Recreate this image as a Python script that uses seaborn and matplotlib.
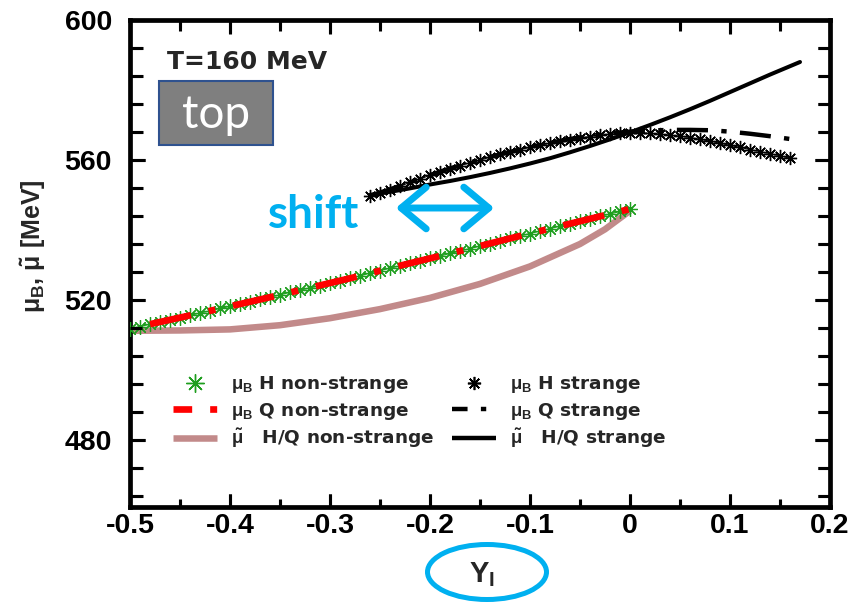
import numpy as np
import pandas as pd
import seaborn as sns
import matplotlib.pyplot as plt
from matplotlib.ticker import MultipleLocator
from matplotlib.patches import Ellipse, Rectangle, FancyArrowPatch
from matplotlib.lines import Line2D

# ---- data -------------------------------------------------------------
# non-strange branch (Y_I from -0.5 to 0)
yi_ns = np.round(np.arange(-0.50, 0.0001, 0.01), 2)
mu_B_H_ns = [511.8, 512.4, 513.1, 513.7, 514.4, 515.0, 515.6, 516.3, 516.9, 517.6,
             518.2, 518.9, 519.5, 520.2, 520.8, 521.5, 522.2, 522.8, 523.5, 524.1,
             524.8, 525.5, 526.2, 526.9, 527.7, 528.4, 529.1, 529.8, 530.5, 531.2,
             531.9, 532.6, 533.3, 534.0, 534.7, 535.4, 536.1, 536.8, 537.6, 538.3,
             539.0, 539.7, 540.4, 541.1, 541.8, 542.5, 543.2, 543.9, 544.6, 545.3,
             546.0]

yi_Q_ns = [-0.48, -0.44, -0.40, -0.36, -0.32, -0.28, -0.24, -0.20, -0.16, -0.12, -0.08, -0.04, 0.0]
mu_B_Q_ns = [513.1, 515.6, 518.2, 520.8, 523.5, 526.2, 529.1, 531.9, 534.7, 537.6, 540.4, 543.2, 546.0]

yi_tilde_ns = [-0.50, -0.45, -0.40, -0.35, -0.30, -0.25, -0.20, -0.15, -0.10, -0.05, -0.025, 0.0]
mu_tilde_ns = [511.2, 511.3, 511.6, 512.8, 514.8, 517.4, 520.6, 524.6, 529.6, 536.0, 540.2, 545.5]

# strange branch (Y_I from -0.26 to 0.17)
yi_s = np.round(np.arange(-0.26, 0.1601, 0.01), 2)
mu_B_H_s = [549.6, 550.5, 551.4, 552.5, 553.6, 554.6, 555.6, 556.6, 557.5, 558.4,
            559.2, 560.0, 560.8, 561.6, 562.3, 563.0, 563.6, 564.2, 564.8, 565.3,
            565.8, 566.3, 566.7, 567.1, 567.4, 567.6, 567.7, 567.7, 567.6, 567.4,
            567.1, 566.8, 566.4, 565.9, 565.4, 564.8, 564.2, 563.6, 563.0, 562.4,
            561.8, 561.2, 560.5]

yi_Q_s = [-0.26, -0.24, -0.22, -0.20, -0.18, -0.16, -0.14, -0.12, -0.10, -0.08, -0.06,
          -0.04, -0.02, 0.00, 0.02, 0.04, 0.06, 0.08, 0.10, 0.12, 0.14, 0.16]
mu_B_Q_s = [549.8, 551.6, 553.7, 555.7, 557.6, 559.3, 560.9, 562.3, 563.7, 564.9, 566.0,
            566.9, 567.6, 568.1, 568.4, 568.6, 568.6, 568.5, 568.1, 567.5, 566.8, 566.0]

yi_tilde_s = [-0.26, -0.24, -0.22, -0.20, -0.18, -0.16, -0.14, -0.12, -0.10, -0.08, -0.06,
              -0.04, -0.02, 0.00, 0.02, 0.04, 0.06, 0.08, 0.10, 0.12, 0.14, 0.16, 0.17]
mu_tilde_s = [550.0, 550.9, 551.9, 553.0, 554.0, 555.1, 556.3, 557.6, 559.0, 560.5, 562.2,
              564.0, 565.9, 567.9, 570.0, 572.2, 574.5, 576.9, 579.4, 581.9, 584.4, 586.8, 588.0]

x_ticks = [-0.5, -0.4, -0.3, -0.2, -0.1, 0.0, 0.1, 0.2]
x_tick_labels = ['-0.5', '-0.4', '-0.3', '-0.2', '-0.1', '0', '0.1', '0.2']
y_ticks = [480, 520, 560, 600]
y_tick_labels = ['480', '520', '560', '600']

legend_labels = [r"$\mu_B$ H non-strange",
                 r"$\mu_B$ Q non-strange",
                 r"$\tilde{\mu}$   H/Q non-strange",
                 r"$\mu_B$ H strange",
                 r"$\mu_B$ Q strange",
                 r"$\tilde{\mu}$   H/Q strange"]

# ---- style ------------------------------------------------------------
sns.set_style('ticks')
plt.rcParams.update({
    'font.family': ['Liberation Sans', 'DejaVu Sans'],
    'font.weight': 'bold',
    'axes.labelweight': 'bold',
    'axes.edgecolor': 'black',
    'axes.linewidth': 3.4,
    'xtick.color': 'black',
    'ytick.color': 'black',
    'mathtext.fontset': 'custom',
    'mathtext.rm': 'Liberation Sans:bold',
    'mathtext.it': 'Liberation Sans:bold',
    'mathtext.bf': 'Liberation Sans:bold',
    'mathtext.sf': 'Liberation Sans:bold',
    'mathtext.default': 'bf',
})

GREEN = '#1f9e1f'
RED = '#ff0000'
ROSY = '#c28a8a'
CYAN = '#00b0f0'

W, H = 863, 602
fig = plt.figure(figsize=(W / 100, H / 100), dpi=100)
ax = fig.add_axes([130 / W, 1 - 506.5 / H, 700 / W, 486.5 / H])

star = (8, 2, 0)
dashdot_red = (0, (6.3, 2.7, 1.05, 2.7))
dashdot_blk = (0, (7.0, 3.0, 1.2, 3.0))

df_H_ns = pd.DataFrame({'Y_I': yi_ns, 'mu': mu_B_H_ns})
df_Q_ns = pd.DataFrame({'Y_I': yi_Q_ns, 'mu': mu_B_Q_ns})
df_t_ns = pd.DataFrame({'Y_I': yi_tilde_ns, 'mu': mu_tilde_ns})
df_H_s = pd.DataFrame({'Y_I': yi_s, 'mu': mu_B_H_s})
df_Q_s = pd.DataFrame({'Y_I': yi_Q_s, 'mu': mu_B_Q_s})
df_t_s = pd.DataFrame({'Y_I': yi_tilde_s, 'mu': mu_tilde_s})

common = dict(x='Y_I', y='mu', estimator=None, sort=False, ax=ax, legend=False)

sns.lineplot(data=df_t_ns, color=ROSY, lw=4.7, solid_capstyle='butt',
             solid_joinstyle='round', zorder=2, **common)
sns.lineplot(data=df_H_ns, color=GREEN, lw=0.9, marker=star, ms=10.5, mew=0.9,
             mec=GREEN, zorder=3, **common)
sns.lineplot(data=df_Q_ns, color=RED, lw=4.8, linestyle=dashdot_red,
             dash_capstyle='butt', zorder=4, **common)
sns.lineplot(data=df_H_s, color='black', lw=0.8, marker=star, ms=9.5, mew=1.0,
             mec='black', zorder=3, **common)
sns.lineplot(data=df_Q_s, color='black', lw=3.2, linestyle=dashdot_blk,
             dash_capstyle='butt', zorder=4, **common)
sns.lineplot(data=df_t_s, color='black', lw=2.9, zorder=5, **common)

# ---- axes -------------------------------------------------------------
ax.set_xlim(-0.5, 0.2)
ax.set_ylim(461, 600)
ax.set_xticks(x_ticks, labels=x_tick_labels)
ax.set_yticks(y_ticks, labels=y_tick_labels)
ax.xaxis.set_minor_locator(MultipleLocator(0.05))
ax.yaxis.set_minor_locator(MultipleLocator(8))
ax.tick_params(axis='both', which='both', direction='in', top=True, right=True,
               color='black', width=2.2, labelsize=20.5)
ax.tick_params(axis='x', which='major', length=9.5, pad=5)
ax.tick_params(axis='x', which='minor', length=5.5)
ax.tick_params(axis='y', which='major', length=11, pad=13)
ax.tick_params(axis='y', which='minor', length=9)


def add_inward_ticks(ax, x_len=(13, 7), x_top_len=(14, 11), y_len=(15, 12), lw=2.2):
    """Trace inward tick marks on all four sides at the locator positions."""
    pos = ax.get_position()
    w_px = pos.width * ax.figure.bbox.width
    h_px = pos.height * ax.figure.bbox.height
    x0, x1 = ax.get_xlim()
    y0, y1 = ax.get_ylim()
    dx = (x1 - x0) / w_px
    dy = (y1 - y0) / h_px
    xs, ys = [], []
    for i, locs in enumerate((ax.get_xticks(), ax.xaxis.get_minorticklocs())):
        for v in locs:
            if x0 - 1e-9 <= v <= x1 + 1e-9:
                xs += [v, v, np.nan, v, v, np.nan]
                ys += [y0, y0 + x_len[i] * dy, np.nan, y1, y1 - x_top_len[i] * dy, np.nan]
    for i, locs in enumerate((ax.get_yticks(), ax.yaxis.get_minorticklocs())):
        for v in locs:
            if y0 - 1e-9 <= v <= y1 + 1e-9:
                xs += [x0, x0 + y_len[i] * dx, np.nan, x1, x1 - y_len[i] * dx, np.nan]
                ys += [v, v, np.nan, v, v, np.nan]
    ax.plot(xs, ys, color='black', lw=lw, solid_capstyle='butt', zorder=6,
            scalex=False, scaley=False)


add_inward_ticks(ax)

ax.set_xlabel(r"$Y_I$", fontsize=21, fontweight='bold', va='center')
ax.xaxis.set_label_coords((482 - 130) / 700, (506.5 - 575) / 486.5)
ax.set_ylabel(r"$\mu_B$, $\tilde{\mu}$ [MeV]", fontsize=18, fontweight='bold', va='center')
ax.yaxis.set_label_coords((33 - 130) / 700, (506.5 - 246) / 486.5)

# ---- legend -----------------------------------------------------------
handles = [
    Line2D([], [], ls='none', marker=star, ms=13, mew=1.0, color=GREEN),
    Line2D([], [], color=RED, lw=4.8, ls=(3.5, (6.3, 2.7, 1.05, 2.7)), dash_capstyle='butt'),
    Line2D([], [], color=ROSY, lw=4.7, solid_capstyle='butt'),
    Line2D([], [], ls='none', marker=star, ms=9.5, mew=1.2, color='black'),
    Line2D([], [], color='black', lw=3.2, ls=(3.5, (7.0, 3.0, 1.2, 3.0)), dash_capstyle='butt'),
    Line2D([], [], color='black', lw=3.2, solid_capstyle='butt'),
]
ax.legend(handles, legend_labels, ncol=2, frameon=False, loc='upper left',
          bbox_to_anchor=((173 - 130) / 700, (506.5 - 374) / 486.5),
          prop={'family': ['DejaVu Sans'], 'weight': 'bold', 'size': 13.3},
          handlelength=2.4, handletextpad=0.75, columnspacing=0.95,
          labelspacing=0.3, borderpad=0, borderaxespad=0)

# ---- annotations ------------------------------------------------------
fig.text(167 / W, 1 - 69 / H, 'T=160 MeV', family=['DejaVu Sans'], weight='bold',
         fontsize=18, va='baseline', ha='left')

fig.patches.append(Rectangle((159 / W, 1 - 145 / H), 114 / W, 64 / H,
                             transform=fig.transFigure, facecolor='#7f7f7f',
                             edgecolor='#2f528f', lw=1.5, zorder=5))
fig.text(216 / W, 1 - 115 / H, 'top', family=['Lato', 'DejaVu Sans'], weight='normal',
         fontsize=33, color='white', ha='center', va='center', zorder=6)

fig.text(268 / W, 1 - 228 / H, 'shift', family=['Lato', 'DejaVu Sans'], weight='bold',
         fontsize=33, color=CYAN, ha='left', va='baseline')

fig.patches.append(FancyArrowPatch((393 / W, 1 - 208 / H), (497 / W, 1 - 208 / H),
                                   transform=fig.transFigure,
                                   arrowstyle='<->,head_length=0.9,head_width=0.75',
                                   mutation_scale=20, lw=5, color=CYAN,
                                   capstyle='round', joinstyle='round'))

fig.patches.append(Ellipse((487 / W, 1 - 572 / H), 119 / W, 55 / H,
                           transform=fig.transFigure, fill=False,
                           edgecolor=CYAN, lw=3.6))

fig.savefig('out.png', dpi=100)
